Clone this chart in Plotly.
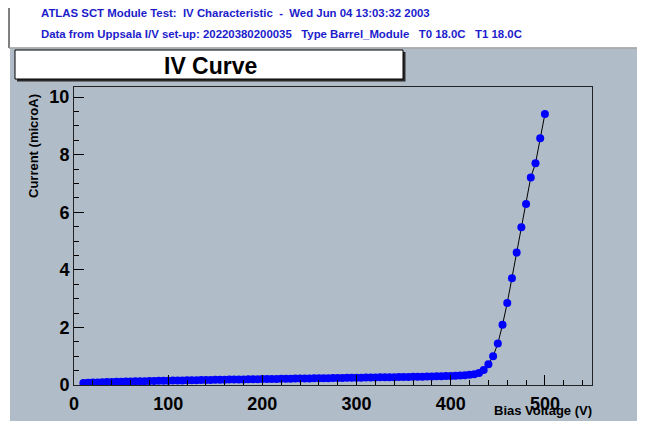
import plotly.graph_objects as go

# ---------------- data ----------------
bias_voltage = [
    10, 15, 20, 25, 30, 35, 40, 45, 50, 55, 60, 65, 70, 75, 80, 85, 90, 95,
    100, 105, 110, 115, 120, 125, 130, 135, 140, 145, 150, 155, 160, 165, 170, 175,
    180, 185, 190, 195, 200, 205, 210, 215, 220, 225, 230, 235, 240, 245, 250, 255,
    260, 265, 270, 275, 280, 285, 290, 295, 300, 305, 310, 315, 320, 325, 330, 335,
    340, 345, 350, 355, 360, 365, 370, 375, 380, 385, 390, 395, 400, 405, 410, 415,
    420, 425, 430, 435, 440, 445, 450, 455, 460, 465, 470, 475, 480, 485, 490, 495, 500,
]
current_microA = [
    0.070, 0.078, 0.085, 0.091, 0.096, 0.101, 0.106, 0.110, 0.115, 0.119, 0.123, 0.127,
    0.131, 0.134, 0.138, 0.141, 0.145, 0.148, 0.151, 0.154, 0.157, 0.160, 0.163, 0.166,
    0.169, 0.171, 0.174, 0.177, 0.180, 0.182, 0.185, 0.187, 0.190, 0.192, 0.195, 0.197,
    0.200, 0.202, 0.205, 0.207, 0.210, 0.212, 0.214, 0.217, 0.219, 0.222, 0.224, 0.226,
    0.229, 0.231, 0.234, 0.236, 0.238, 0.241, 0.243, 0.246, 0.248, 0.250, 0.253, 0.255,
    0.258, 0.260, 0.263, 0.265, 0.268, 0.270, 0.273, 0.276, 0.279, 0.281, 0.284, 0.287,
    0.290, 0.294, 0.297, 0.301, 0.305, 0.310, 0.316, 0.323, 0.331, 0.341, 0.355, 0.375,
    0.420, 0.520, 0.720, 1.00, 1.44, 2.09, 2.85, 3.71, 4.60, 5.48, 6.29, 7.21, 7.70,
    8.57, 9.41,
]
x_tick_values = [0, 100, 200, 300, 400, 500]
y_tick_values = [0, 2, 4, 6, 8, 10]

header_line1 = "ATLAS SCT Module Test:&nbsp; IV Characteristic&nbsp; -&nbsp; Wed Jun 04 13:03:32 2003"
header_line2 = ("Data from Uppsala I/V set-up: 20220380200035&nbsp;&nbsp; Type Barrel_Module"
                "&nbsp;&nbsp; T0 18.0C&nbsp;&nbsp; T1 18.0C")
plot_title = "IV Curve"
x_title = "Bias Voltage (V)"
y_title = "Current (microA)"

# ---------------- layout geometry (page pixels) ----------------
OFF = 8                      # page body margin before the figure
W, H = 645, 421
L, R, T, B = 74, 592, 87, 385
PAD = "#b0bcc8"
HEADER_BLUE = "#1c1ccc"
FONT = "Liberation Sans, Arial, Helvetica, sans-serif"


def px(x):
    return (x - L) / (R - L)


def py(y):
    return (B - y) / (B - T)


fig = go.Figure()
fig.add_trace(go.Scatter(
    x=bias_voltage, y=current_microA, mode="lines+markers",
    line=dict(color="black", width=1),
    marker=dict(color="#0000ff", size=8, line=dict(width=0)),
    showlegend=False,
))

axis_common = dict(
    showgrid=False, zeroline=False, ticks="inside", ticklen=10, tickwidth=1,
    tickcolor="black", showline=True, linecolor="#222222", linewidth=1, mirror=True,
    tickfont=dict(family=FONT, size=18, color="black", weight="bold"),
)
fig.update_xaxes(range=[0, 550], tickvals=x_tick_values, ticklabelstandoff=2,
                 minor=dict(dtick=20, ticks="inside", ticklen=5, tickcolor="black"),
                 **axis_common)
fig.update_yaxes(range=[0, 10.35], tickvals=y_tick_values,
                 minor=dict(dtick=0.5, ticks="inside", ticklen=5, tickcolor="black"),
                 **axis_common)

shapes = [
    dict(type="rect", xref="paper", yref="paper", x0=px(-20), x1=px(700), y0=py(48.5), y1=py(-20),
         fillcolor="white", line=dict(width=0), layer="below"),
    dict(type="rect", xref="paper", yref="paper", x0=px(-20), x1=px(10), y0=py(480), y1=py(-20),
         fillcolor="white", line=dict(width=0), layer="below"),
    dict(type="line", xref="paper", yref="paper", x0=px(9), x1=px(9), y0=py(48), y1=py(-10),
         line=dict(color="black", width=1)),
    dict(type="line", xref="paper", yref="paper", x0=px(9), x1=px(700), y0=py(48), y1=py(48),
         line=dict(color="#9a9a9a", width=1.5)),
    dict(type="rect", xref="paper", yref="paper", x0=px(17), x1=px(405.5), y0=py(81.5), y1=py(52),
         fillcolor="#2a2a2a", line=dict(width=0)),
    dict(type="rect", xref="paper", yref="paper", x0=px(15), x1=px(403), y0=py(79), y1=py(50),
         fillcolor="white", line=dict(color="black", width=1)),
]

annotations = [
    dict(text=header_line1, xref="paper", yref="paper", x=px(39), y=py(13),
         xanchor="left", yanchor="middle", showarrow=False,
         font=dict(family=FONT, size=11.4, color=HEADER_BLUE, weight="bold")),
    dict(text=header_line2, xref="paper", yref="paper", x=px(39), y=py(34),
         xanchor="left", yanchor="middle", showarrow=False,
         font=dict(family=FONT, size=11.4, color=HEADER_BLUE, weight="bold")),
    dict(text=plot_title, xref="paper", yref="paper", x=px(210), y=py(66),
         xanchor="center", yanchor="middle", showarrow=False,
         font=dict(family=FONT, size=23, color="black", weight="bold")),
    dict(text=y_title, xref="paper", yref="paper", x=px(33), y=py(92),
         xanchor="center", yanchor="top", textangle=-90, showarrow=False,
         font=dict(family=FONT, size=13, color="black", weight="bold")),
    dict(text=x_title, xref="paper", yref="paper", x=px(594), y=py(410),
         xanchor="right", yanchor="middle", showarrow=False,
         font=dict(family=FONT, size=13, color="black", weight="bold")),
]

fig.update_layout(
    width=W, height=H, autosize=False,
    margin=dict(l=L - OFF, r=W - (R - OFF), t=T - OFF, b=H - (B - OFF), pad=0),
    paper_bgcolor=PAD, plot_bgcolor=PAD,
    shapes=shapes, annotations=annotations,
    font=dict(family=FONT),
)

fig.write_html("out.html")
